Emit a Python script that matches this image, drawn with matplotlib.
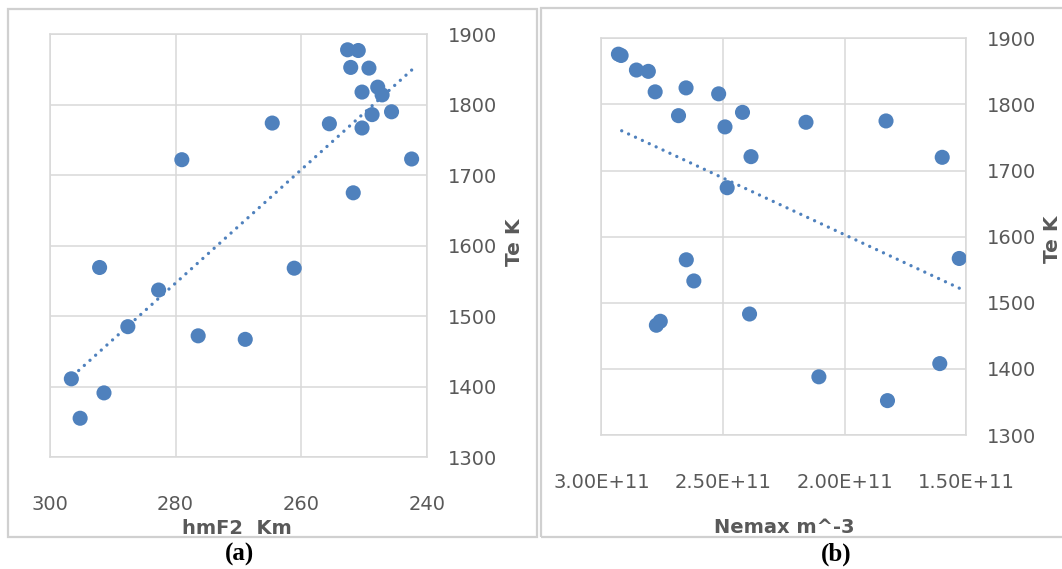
import matplotlib
matplotlib.use("Agg")
import matplotlib.pyplot as plt
from matplotlib.patches import Rectangle
from matplotlib.ticker import FuncFormatter
import numpy as np

# hmF2 (km) vs electron temperature
hmf2 = [252.6, 250.9, 252.1, 249.2, 247.8, 247.1, 250.3, 248.7, 245.6, 250.3, 255.5, 264.6,
        279.0, 242.4, 251.7, 261.1, 292.1, 282.7, 287.6, 276.4, 268.9, 296.6, 291.4, 295.2]
te_a = [1878, 1877, 1853, 1852, 1825, 1814, 1818, 1786, 1790, 1767, 1773, 1774,
        1722, 1723, 1675, 1568, 1569, 1537, 1485, 1472, 1467, 1411, 1391, 1355]

# Nemax (m^-3) vs electron temperature
nemax = [2.930e11, 2.919e11, 2.856e11, 2.807e11, 2.779e11, 2.652e11, 2.518e11, 2.683e11,
         2.420e11, 2.492e11, 2.159e11, 1.830e11, 2.385e11, 1.599e11, 2.483e11, 1.529e11,
         2.651e11, 2.620e11, 2.774e11, 2.758e11, 2.391e11, 1.609e11, 2.106e11, 1.824e11]
te_b = [1876, 1874, 1852, 1850, 1819, 1825, 1816, 1783, 1788, 1766, 1773, 1775,
        1721, 1720, 1674, 1567, 1565, 1533, 1466, 1472, 1483, 1408, 1388, 1352]

te_ticks = [1300, 1400, 1500, 1600, 1700, 1800, 1900]
hmf2_ticks = [300, 280, 260, 240]
nemax_ticks = [3.0e11, 2.5e11, 2.0e11, 1.5e11]

BLUE = "#4F81BD"
GRID = "#D9D9D9"
TEXT = "#595959"
W, H = 1062, 569

plt.rcParams["font.family"] = ["DejaVu Sans"]

fig = plt.figure(figsize=(W / 100, H / 100), dpi=100)


def px(x0, y0, x1, y1):
    # pixel box (top-left origin) -> figure fractions
    return [x0 / W, 1 - y1 / H, (x1 - x0) / W, (y1 - y0) / H]


# outer frames of both panels
for x0, y0, x1, y1 in [(8, 8.5, 537, 537), (540.5, 8, 1070, 537)]:
    fig.patches.append(Rectangle((x0 / W, 1 - y1 / H), (x1 - x0) / W, (y1 - y0) / H,
                                 transform=fig.transFigure, fill=False,
                                 edgecolor="#D0D0D0", lw=1.6, zorder=0))


def style(ax, xlim, xticks, xlab, xlab_pos, ylab_pos):
    ax.set_xlim(*xlim)
    ax.set_ylim(1300, 1900)
    ax.set_xticks(xticks)
    ax.set_yticks(te_ticks)
    ax.yaxis.tick_right()
    ax.grid(True, color=GRID, lw=1.1)
    ax.set_axisbelow(True)
    for s in ax.spines.values():
        s.set_color(GRID)
        s.set_linewidth(1.1)
    ax.tick_params(axis="both", length=0, labelsize=14, labelcolor=TEXT)
    ax.tick_params(axis="x", pad=27)
    ax.tick_params(axis="y", pad=15)
    ax.set_xlabel(xlab, fontsize=14, fontweight="bold", color=TEXT)
    ax.xaxis.set_label_coords(xlab_pos[0] / W, 1 - xlab_pos[1] / H, transform=fig.transFigure)
    ax.yaxis.set_label_position("right")
    ax.set_ylabel("Te K", fontsize=14.5, fontweight="bold", color=TEXT, rotation=90,
                  va="center", ha="center")
    ax.yaxis.set_label_coords(ylab_pos[0] / W, 1 - ylab_pos[1] / H, transform=fig.transFigure)


def scatter_fit(ax, x, y):
    x = np.asarray(x)
    y = np.asarray(y)
    ax.scatter(x, y, s=118, color=BLUE, edgecolors="none", zorder=3)
    # linear trend over the data range, drawn as round dots
    k, b = np.polyfit(x, y, 1)
    xs = np.array([x.min(), x.max()])
    ax.plot(xs, k * xs + b, color=BLUE, lw=2.4, ls=(0, (0.01, 2.27)),
            dash_capstyle="round", zorder=2)


# (a) hmF2
ax1 = fig.add_axes(px(50, 34.3, 426.7, 457))
scatter_fit(ax1, hmf2, te_a)
style(ax1, (300, 240), hmf2_ticks, "hmF2  Km", (237, 519), (515, 242))

# (b) Nemax
ax2 = fig.add_axes(px(601.4, 38.3, 966.3, 435))
scatter_fit(ax2, nemax, te_b)
style(ax2, (3.0e11, 1.5e11), nemax_ticks, "Nemax m^-3", (784, 518), (1053, 239))
ax2.xaxis.set_major_formatter(FuncFormatter(lambda v, p: f"{v:.2E}"))

fig.text(239 / W, 1 - 554 / H, "(a)", family="Liberation Serif", fontweight="bold",
         fontsize=18, ha="center", va="center")
fig.text(836 / W, 1 - 554 / H, "(b)", family="Liberation Serif", fontweight="bold",
         fontsize=18, ha="center", va="center")

fig.savefig("out.png", dpi=100, facecolor="white")
